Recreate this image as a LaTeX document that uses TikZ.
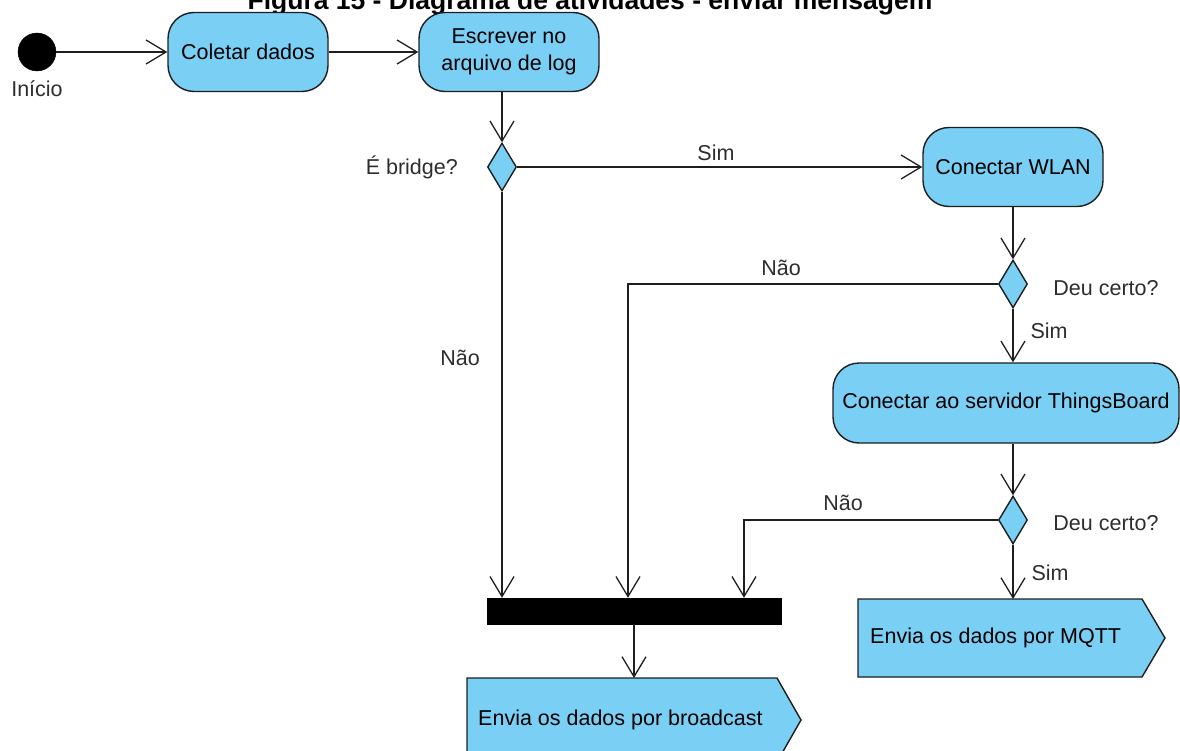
\documentclass[tikz,border=0pt]{standalone}
\usepackage{fontspec}
\setmainfont{Liberation Sans}
\usetikzlibrary{arrows.meta,shapes.geometric}
\definecolor{boxblue}{RGB}{122,207,245}
\definecolor{edgec}{RGB}{30,30,30}
\definecolor{lblc}{RGB}{45,45,45}
\begin{document}
\begin{tikzpicture}[x=1pt,y=-1pt,
  txt/.style={font=\fontsize{21.5}{27}\selectfont},
  act/.style={txt, draw=edgec, line width=1.4pt, fill=boxblue, rounded corners=26pt, inner sep=0pt, align=center, text=black},
  dec/.style={diamond, draw=edgec, line width=1.4pt, fill=boxblue, inner sep=0pt, minimum width=29pt, minimum height=48pt},
  sendbox/.style={draw=edgec, line width=1.4pt, fill=boxblue},
  lbl/.style={txt, text=lblc, inner sep=0pt},
  conn/.style={draw=edgec, line width=1.4pt},
  arr/.style={conn, -{Straight Barb[length=20pt,width=24pt,line width=1.3pt]}}
]
\useasboundingbox (0,0) rectangle (1180,751);

% title (cut at the top)
\node[anchor=base, font=\fontsize{26.5}{31}\selectfont\bfseries, inner sep=0pt] (title) at (590,9.5) {Figura 15 - Diagrama de atividades - enviar mensagem};

% nodes
\node[circle, fill=black, draw=black, minimum size=38pt, inner sep=0pt] (init) at (37,52) {};
\node[lbl] (initl) at (37,89) {Início};
\node[act, minimum width=160pt, minimum height=79pt] (coletar) at (248,52) {Coletar dados};
\node[act, minimum width=180pt, minimum height=79pt] (escrever) at (509,52) {Escrever no\\arquivo de log};
\node[dec] (d1) at (502,167) {};
\node[act, minimum width=180pt, minimum height=79pt] (wlan) at (1013,167) {Conectar WLAN};
\node[dec] (d2) at (1013,284) {};
\node[act, minimum width=346pt, minimum height=80pt] (tb) at (1006,403) {Conectar ao servidor ThingsBoard};
\node[dec] (d3) at (1013,520) {};
\node[fill=black, draw=black, minimum width=294pt, minimum height=26pt, inner sep=0pt] (bar) at (634,611) {};

% send signal shapes
\draw[sendbox] (858,599) -- (1142,599) -- (1165,638) -- (1142,677) -- (858,677) -- cycle;
\node[txt, anchor=west, inner sep=0pt] (mqtt) at (870,638) {Envia os dados por MQTT};
\coordinate (mqtttop) at (1013,599);
\draw[sendbox] (467,678) -- (777,678) -- (801,720) -- (777,762) -- (467,762) -- cycle;
\node[txt, anchor=west, inner sep=0pt] (bcast) at (478,720) {Envia os dados por broadcast};
\coordinate (bcasttop) at (634,678);

% join columns
\coordinate (j2) at (628,0);
\coordinate (j3) at (744,0);

% connectors
\draw[arr] (init) -- (coletar);
\draw[arr] (coletar) -- (escrever);
\draw[arr] (escrever.south -| d1.north) -- (d1.north);
\draw[arr] (d1.east) -- (wlan.west);
\draw[arr] (d1.south) -- (bar.north -| d1.south);
\draw[arr] (wlan.south -| d2.north) -- (d2.north);
\draw[arr] (d2.west) -| (j2 |- bar.north);
\draw[arr] (d2.south) -- (tb.north -| d2.south);
\draw[arr] (tb.south -| d3.north) -- (d3.north);
\draw[arr] (d3.west) -| (j3 |- bar.north);
\draw[arr] (d3.south) -- (mqtttop);
\draw[arr] (bar.south -| bcasttop) -- (bcasttop);

% labels
\node[lbl, anchor=east] (l1) at (458,167) {É bridge?};
\node[lbl] (l2) at (716,153) {Sim};
\node[lbl] (l3) at (460,358) {Não};
\node[lbl] (l4) at (781,268) {Não};
\node[lbl] (l5) at (1106,288) {Deu certo?};
\node[lbl] (l6) at (1049,331) {Sim};
\node[lbl] (l7) at (843,503) {Não};
\node[lbl] (l8) at (1106,523) {Deu certo?};
\node[lbl] (l9) at (1050,573) {Sim};
\end{tikzpicture}
\end{document}
